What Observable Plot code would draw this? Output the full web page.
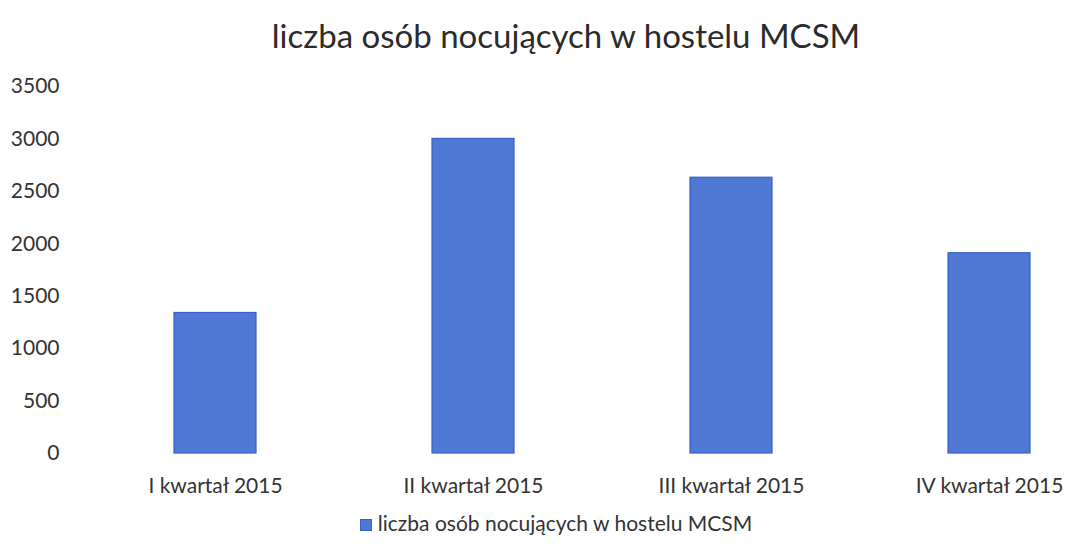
<!DOCTYPE html>
<html>
<head>
<meta charset="utf-8">
<script src="https://cdn.jsdelivr.net/npm/d3@7"></script>
<script src="https://cdn.jsdelivr.net/npm/@observablehq/plot@0.6"></script>
<style>
  html, body { margin: 0; padding: 0; background: #fff; }
  body { width: 1072px; height: 548px; overflow: hidden; font-family: Lato, "Open Sans", sans-serif; color: #333; }
  #title { height: 70px; line-height: 70px; text-align: center; font-size: 33px; padding-left: 60px; color: #2b2b2b; }
  #legend { text-align: center; font-size: 21px; margin-top: 5px; padding-left: 40px; color: #333; }
  #legend .sw { display: inline-block; width: 10px; height: 10px; background: #5079d6; border: 1px solid #3a5fc8; margin-right: 6px; vertical-align: 0px; }
</style>
</head>
<body>
<div id="title"></div>
<div id="chart"></div>
<div id="legend"></div>
<script>
const title = "liczba osób nocujących w hostelu MCSM";
const seriesName = "liczba osób nocujących w hostelu MCSM";
const categories = ["I kwartał 2015", "II kwartał 2015", "III kwartał 2015", "IV kwartał 2015"];
const values = [1340, 3000, 2630, 1910];
const yTicks = [0, 500, 1000, 1500, 2000, 2500, 3000, 3500];

const data = categories.map((c, i) => ({category: c, value: values[i]}));

document.getElementById("title").textContent = title;

const chart = Plot.plot({
  width: 1072,
  height: 435,
  marginLeft: 83,
  marginRight: -48,
  marginTop: 16,
  marginBottom: 52,
  style: {fontFamily: "Lato, 'Open Sans', sans-serif", fontSize: "21px", color: "#333", background: "#fff"},
  x: {domain: categories, paddingInner: 0.683, paddingOuter: 0.344, label: null},
  y: {domain: [0, 3500], label: null},
  marks: [
    Plot.barY(data, {x: "category", y: "value", fill: "#5079d6", stroke: "#3a5fc8", strokeWidth: 1.2}),
    Plot.axisY({ticks: yTicks, tickFormat: d => String(d), tickSize: 0, tickPadding: 24, label: null, fontSize: 21}),
    Plot.axisX({tickSize: 0, tickPadding: 25, label: null, fontSize: 21})
  ]
});
document.getElementById("chart").appendChild(chart);

const lg = document.getElementById("legend");
const sw = document.createElement("span");
sw.className = "sw";
lg.appendChild(sw);
lg.appendChild(document.createTextNode(seriesName));
</script>
</body>
</html>
